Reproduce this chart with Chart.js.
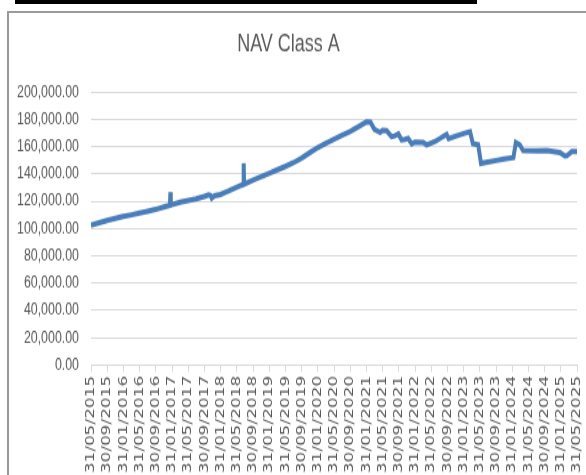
<!DOCTYPE html>
<html>
<head>
<meta charset="utf-8">
<script src="https://cdn.jsdelivr.net/npm/chart.js@4"></script>
<style>
  html, body { margin: 0; padding: 0; background: #fff; overflow: hidden; }
  #topBar { position: absolute; left: 15px; top: 0; width: 462px; height: 4px; background: #000; }
  #frame { position: absolute; left: 7px; top: 11px; width: 700px; height: 600px;
           border-left: 2px solid #9a9a9a; border-top: 2px solid #9a9a9a; }
  #wrap { position: absolute; left: 0; top: 0; width: 586px; height: 352px;
          transform: scaleY(1.35); transform-origin: 0 0; }
</style>
</head>
<body>
<div id="topBar"></div>
<div id="frame"></div>
<div id="wrap"><canvas id="NavChart" width="586" height="352"></canvas></div>
<script>
// months since 31/05/2015
var months = [0, 2, 4, 6, 8, 10, 12, 14, 16, 18, 19.5, 19.6, 19.7, 22, 24, 26, 28, 29, 29.5, 29.8, 30.5, 32, 34, 36,
    37.6, 37.7, 37.8, 40, 42, 44, 46, 48, 50, 52, 54, 56, 58, 60, 62, 64, 66, 68, 69, 70, 71.4, 72, 73,
    74.2, 75, 75.9, 76.7, 77.5, 78.3, 79.2, 80, 82, 82.9, 85, 87.8, 88.3, 90, 92, 93.6, 94.3, 95.6, 96.3,
    98, 100, 102, 104.3, 104.9, 105.9, 106.7, 110, 112.5, 115.8, 117, 117.5, 118.7, 120];
var nav = [102500, 104200, 106000, 107500, 108800, 110000, 111300, 112600, 114000, 115800, 117000, 126500, 117200,
    119200, 120600, 121800, 123500, 124600, 124200, 122300, 124000, 125000, 127500, 130200,
    132300, 147800, 132500, 135500, 138000, 140500, 143000, 145500, 148200, 151500, 155500, 159300, 162500, 165300,
    168300, 171000, 174500, 178000, 177800, 172500, 170400, 171800, 171600,
    167300, 167800, 169200, 164800, 165300, 166000, 161900, 163300, 163100, 161200, 163800, 169000, 165800,
    167600, 169600, 170900, 162000, 161200, 147700,
    148600, 149800, 150900, 152000, 162900, 161200, 157000, 156800, 157000, 155600, 153100, 153300, 156300, 156300];
var dateLabels = ['31/05/2015', '30/09/2015', '31/01/2016', '31/05/2016', '30/09/2016', '31/01/2017',
    '31/05/2017', '30/09/2017', '31/01/2018', '31/05/2018', '30/09/2018', '31/01/2019', '31/05/2019',
    '30/09/2019', '31/01/2020', '31/05/2020', '30/09/2020', '31/01/2021', '31/05/2021', '30/09/2021',
    '31/01/2022', '31/05/2022', '30/09/2022', '31/01/2023', '31/05/2023', '30/09/2023', '31/01/2024',
    '31/05/2024', '30/09/2024', '31/01/2025', '31/05/2025'];

var points = months.map(function (m, i) { return { x: m, y: nav[i] }; });

var ctx = document.getElementById('NavChart').getContext('2d');
var myLineChart = new Chart(ctx, {
    type: 'line',
    data: {
        datasets: [{
            label: 'NAV Class A',
            data: points,
            borderColor: '#4a7ebb',
            borderWidth: 4,
            pointRadius: 0,
            tension: 0,
            fill: false
        }]
    },
    options: {
        responsive: false,
        animation: false,
        devicePixelRatio: 1,
        layout: { padding: { left: 0, right: 9, top: 0, bottom: 0 } },
        plugins: {
            legend: { display: false },
            tooltip: { enabled: false },
            title: {
                display: true,
                text: 'NAV Class A',
                color: '#595959',
                font: { family: 'Liberation Sans', size: 18, weight: 'normal' },
                padding: { top: 22, bottom: 24.5 }
            }
        },
        scales: {
            x: {
                type: 'linear',
                min: 0,
                max: 120,
                afterFit: function (scale) {
                    scale.height = 81.6;
                    scale.paddingLeft = 0;
                    scale.paddingRight = 0;
                },
                border: { display: true, color: '#d9d9d9', width: 1 },
                grid: { display: true, drawOnChartArea: false, drawTicks: true, tickLength: 5, color: '#d9d9d9' },
                ticks: {
                    stepSize: 4,
                    autoSkip: false,
                    maxRotation: 90,
                    minRotation: 90,
                    padding: 3,
                    color: '#595959',
                    font: { family: 'DejaVu Sans', size: 12.5 },
                    callback: function (value) { return dateLabels[Math.round(value / 4)]; }
                }
            },
            y: {
                min: 0,
                max: 200000,
                afterFit: function (scale) { scale.width = 91; },
                border: { display: false },
                grid: { color: '#d9d9d9', drawTicks: false, lineWidth: 1 },
                ticks: {
                    stepSize: 20000,
                    padding: 12,
                    color: '#595959',
                    font: { family: 'Liberation Sans', size: 12.4 },
                    callback: function (value) {
                        return value.toLocaleString('en-US', { minimumFractionDigits: 2, maximumFractionDigits: 2 });
                    }
                }
            }
        }
    }
});
</script>
</body>
</html>
